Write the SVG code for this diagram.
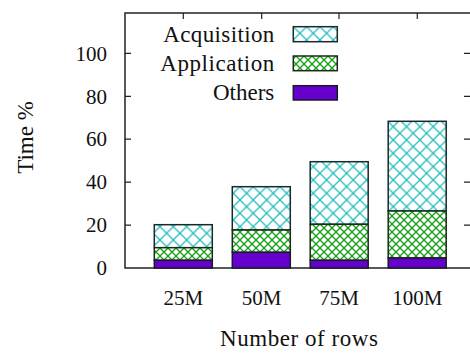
<svg xmlns="http://www.w3.org/2000/svg" width="470" height="354" viewBox="0 0 470 354" font-family="'Liberation Serif','DejaVu Serif',serif">
<style>
text{font-family:"Liberation Serif","DejaVu Serif",serif;fill:#111}
.tick{font-size:21px}
.lab{font-size:23px}
.frame{fill:none;stroke:#222;stroke-width:1.5}
.tk{stroke:#222;stroke-width:1.2}
.acq{fill:url(#pAcq);stroke:#1a2a2a;stroke-width:1.5}
.app{fill:url(#pApp);stroke:#1a2a1a;stroke-width:1.5}
.oth{fill:#6600cc;stroke:#1a1a2a;stroke-width:1.5}
</style>
<defs>
<pattern id="pAcq" patternUnits="userSpaceOnUse" width="13.33" height="13.33">
<rect width="13.33" height="13.33" fill="#fff"/>
<path d="M-1,-1 L14.33,14.33 M14.33,-1 L-1,14.33" stroke="#1fbcbc" stroke-width="1.3"/>
</pattern>
<pattern id="pApp" patternUnits="userSpaceOnUse" width="8" height="8">
<rect width="8" height="8" fill="#fff"/>
<path d="M-1,-1 L9,9 M9,-1 L-1,9" stroke="#12a012" stroke-width="1.3"/>
</pattern>
</defs>
<g id="axes">
<rect class="frame" x="125" y="13" width="346" height="255"/>
<path class="tk" d="M125,225.1h6M125,182.1h6M125,139.2h6M125,96.3h6M125,53.3h6M470,225.1h-6M470,182.1h-6M470,139.2h-6M470,96.3h-6M470,53.3h-6M183.3,13v6M261.7,13v6M339,13v6M417.3,13v6"/>
<g class="tick" text-anchor="end">
<text x="107" y="275">0</text>
<text x="107" y="232.3">20</text>
<text x="107" y="189.3">40</text>
<text x="107" y="146.4">60</text>
<text x="107" y="103.5">80</text>
<text x="107" y="60.7">100</text>
</g>
<g class="tick" text-anchor="middle">
<text x="183.3" y="305">25M</text>
<text x="261.7" y="305">50M</text>
<text x="339" y="305">75M</text>
<text x="417.3" y="305">100M</text>
</g>
<text class="lab" x="299" y="346" text-anchor="middle" textLength="158">Number of rows</text>
<text class="lab" transform="translate(33,137.5) rotate(-90)" text-anchor="middle">Time %</text>
</g>
<g id="bars">
<g id="bar-25M">
<rect class="acq" x="154.3" y="224.7" width="58" height="23"/>
<rect class="app" x="154.3" y="247.7" width="58" height="12.6"/>
<rect class="oth" x="154.3" y="260.3" width="58" height="7.7"/>
</g>
<g id="bar-50M">
<rect class="acq" x="232.3" y="186.7" width="58" height="43.3"/>
<rect class="app" x="232.3" y="230" width="58" height="22.3"/>
<rect class="oth" x="232.3" y="252.3" width="58" height="15.7"/>
</g>
<g id="bar-75M">
<rect class="acq" x="310.2" y="161.7" width="58" height="62.6"/>
<rect class="app" x="310.2" y="224.3" width="58" height="36"/>
<rect class="oth" x="310.2" y="260.3" width="58" height="7.7"/>
</g>
<g id="bar-100M">
<rect class="acq" x="388.2" y="121.3" width="58" height="89.7"/>
<rect class="app" x="388.2" y="211" width="58" height="47"/>
<rect class="oth" x="388.2" y="258" width="58" height="10"/>
</g>
</g>
<g id="legend">
<text class="lab" x="274.3" y="41.7" text-anchor="end" textLength="111">Acquisition</text>
<text class="lab" x="274.3" y="70.7" text-anchor="end" textLength="114">Application</text>
<text class="lab" x="274.3" y="100" text-anchor="end">Others</text>
<rect class="acq" x="293.3" y="26.7" width="44" height="15"/>
<rect class="app" x="293.3" y="56" width="44" height="14.7"/>
<rect class="oth" x="293.3" y="85.7" width="44" height="14.3"/>
</g>
</svg>
